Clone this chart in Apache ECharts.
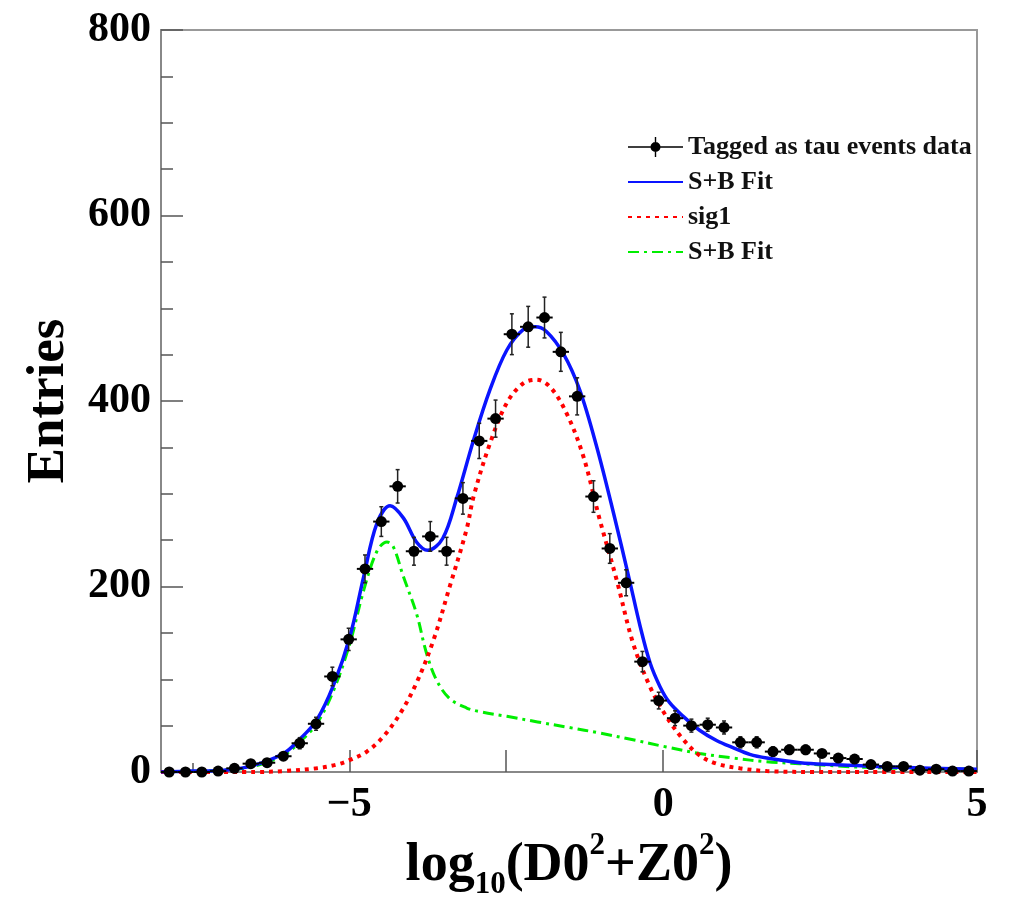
<!DOCTYPE html>
<html>
<head>
<meta charset="utf-8">
<script src="https://cdn.jsdelivr.net/npm/echarts@6/dist/echarts.min.js"></script>
<style>
html,body{margin:0;padding:0;background:#fff;}
#chart{width:1009px;height:900px;}
</style>
</head>
<body>
<div id="chart"></div>
<script>
// ---- data ----
const binCenters = [-7.87,-7.61,-7.35,-7.09,-6.83,-6.57,-6.31,-6.05,-5.79,-5.53,
  -5.27,-5.01,-4.75,-4.49,-4.23,-3.97,-3.71,-3.45,-3.19,-2.93,
  -2.67,-2.41,-2.15,-1.89,-1.63,-1.37,-1.11,-0.85,-0.59,-0.33,
  -0.07,0.19,0.45,0.71,0.97,1.23,1.49,1.75,2.01,2.27,
  2.53,2.79,3.05,3.31,3.57,3.83,4.09,4.35,4.61,4.87];
const binHalfWidth = 0.13;
const entries = [0,0,0,1,4,9,10,17,31,52,
  103,143,219,270,308,238,254,238,295,357,
  381,472,480,490,453,405,297,241,204,119,
  77,58,50,51,48,32,32,22,24,24,
  20,15,14,8,6,6,2,3,1,1];
const entryErrors = [0,0,0,1,2,3,3,4,6,7,
  10,12,15,16,18,15,16,15,17,19,
  20,22,22,22,21,20,17,16,14,11,
  9,8,7,7,7,6,6,5,5,5,
  4,4,4,3,2,2,1,2,1,1];

const fitX = [-8,-7.5,-7,-6.58,-6.05,-5.78,-5.52,-5.25,-4.99,-4.77,-4.56,-4.35,-4.14,-3.93,-3.75,-3.51,-3.29,-3.02,-2.76,-2.49,-2.23,-2.04,-1.86,-1.59,-1.33,-1.06,-0.79,-0.53,-0.37,-0.21,-0.05,0.1,0.32,0.58,0.85,1.12,1.38,1.65,2.18,2.71,3.77,5];
const fitY = [0,1,2,6,20,36,56,94,146,211,268,287,274,248,239,252,295,358,412,455,477,480,475,451,412,351,279,205,158,118,92,75,60,45,34,26,19,15,10,8,5,3];

const sigX = [-8,-6.5,-6.05,-5.52,-5.2,-4.99,-4.72,-4.46,-4.19,-3.93,-3.66,-3.4,-3.13,-3.02,-2.76,-2.49,-2.23,-2.02,-1.8,-1.54,-1.27,-1.01,-0.74,-0.48,-0.21,0.05,0.32,0.58,0.85,1.22,1.65,2.5,5];
const sigY = [0,0,1,4,8,13,22,38,63,96,142,200,262,297,354,398,419,423,415,387,340,272,207,139,92,60,35,18,9,4,1,0,0];

const bkgX = [-8,-7,-6.58,-6.05,-5.78,-5.52,-5.25,-4.99,-4.77,-4.56,-4.4,-4.3,-4.14,-3.93,-3.77,-3.61,-3.4,-3.13,-2.92,-2.49,-2,-1.5,-1.01,-0.5,0.05,0.58,1.12,1.65,2.18,3.24,4.93];
const bkgY = [0,2,5,18,33,52,88,139,196,238,248,243,211,171,128,99,79,69,65,60,54,48,42,35,27,20,15,11,9,5,3];

const xLabelValues = [-5,0,5];
const xTickValues = [-5,-2.5,0,2.5,5];
const xSmallTickValues = [-7.5];

const dataName = 'Tagged as tau events data';
const fitName = 'S+B Fit';
const sigName = 'sig1';
const bkgName = 'S+B Fit\u200b';

// ---- build ----
const zip = (xs, ys) => xs.map((x, i) => [x, ys[i]]);
const pointData = binCenters.map((x, i) => [x, entries[i], entryErrors[i], binHalfWidth]);

const FONT = "'Liberation Serif','Times New Roman',serif";

function renderPoint(params, api) {
  const x = api.value(0), y = api.value(1), e = api.value(2), hw = api.value(3);
  const c = api.coord([x, y]);
  const lft = api.coord([x - hw, y]);
  const rgt = api.coord([x + hw, y]);
  const top = api.coord([x, y + e]);
  const bot = api.coord([x, Math.max(0, y - e)]);
  const children = [];
  children.push({type:'line', shape:{x1:lft[0], y1:c[1], x2:rgt[0], y2:c[1]}, style:{stroke:'#000', lineWidth:2}});
  if (e > 0) {
    children.push({type:'line', shape:{x1:c[0], y1:top[1], x2:c[0], y2:bot[1]}, style:{stroke:'#222', lineWidth:1.5}});
    children.push({type:'line', shape:{x1:c[0]-2, y1:top[1], x2:c[0]+2, y2:top[1]}, style:{stroke:'#222', lineWidth:1.5}});
    children.push({type:'line', shape:{x1:c[0]-2, y1:bot[1], x2:c[0]+2, y2:bot[1]}, style:{stroke:'#222', lineWidth:1.5}});
  }
  children.push({type:'circle', shape:{cx:c[0], cy:c[1], r:5.5}, style:{fill:'#000'}});
  return {type:'group', children};
}

const chart = echarts.init(document.getElementById('chart'), null, {renderer:'canvas'});
const option = {
  animation: false,
  backgroundColor: '#fff',
  grid: {left:161, right:32, top:30, bottom:128, show:true, borderColor:'#999', borderWidth:2, backgroundColor:'transparent',
    containLabel: false, outerBoundsMode: 'none'},
  legend: {
    orient: 'vertical',
    left: 622, top: 129,
    itemWidth: 55, itemHeight: 20, itemGap: 9,
    textStyle: {fontFamily: FONT, fontWeight: 'bold', fontSize: 26, color: '#111', lineHeight: 26},
    data: [
      {name: dataName, icon: 'path://M0,9.2L55,9.2L55,10.8L0,10.8Z M26.8,0L28.2,0L28.2,20L26.8,20Z M22.5,10A5,5 0 1,1 32.5,10A5,5 0 1,1 22.5,10Z', itemStyle:{color:'#000'}},
      {name: fitName, itemStyle: {opacity: 0}},
      {name: sigName, itemStyle: {opacity: 0}},
      {name: bkgName, itemStyle: {opacity: 0}}
    ]
  },
  xAxis: [{
    type: 'value', min: -8, max: 5,
    position: 'bottom',
    axisLine: {show: true, onZero: false, lineStyle: {color: '#888', width: 2}},
    axisTick: {show: true, inside: true, length: 22, customValues: xTickValues, lineStyle: {color: '#555', width: 1.5}},
    axisLabel: {customValues: xLabelValues, fontFamily: FONT, fontWeight: 'bold', fontSize: 42, color: '#000', margin: 12,
      formatter: v => (v < 0 ? '\u2212' + Math.abs(v) : String(v))},
    splitLine: {show: false},
    name: '{a|log}{sub|10}{a|(D0}{sup|2}{a|+Z0}{sup|2}{a|)}',
    nameLocation: 'middle', nameGap: 54,
    nameTextStyle: {
      rich: {
        a: {fontFamily: FONT, fontWeight: 'bold', fontSize: 54, color: '#000', lineHeight: 70, verticalAlign: 'middle'},
        sub: {fontFamily: FONT, fontWeight: 'bold', fontSize: 31, color: '#000', lineHeight: 30, verticalAlign: 'bottom'},
        sup: {fontFamily: FONT, fontWeight: 'bold', fontSize: 31, color: '#000', lineHeight: 30, verticalAlign: 'top'}
      }
    }
  }, {
    type: 'value', min: -8, max: 5, position: 'bottom', gridIndex: 0,
    axisLine: {show: false, onZero: false},
    axisTick: {show: true, inside: true, length: 9, customValues: xSmallTickValues, lineStyle: {color: '#555', width: 1.5}},
    axisLabel: {show: false},
    splitLine: {show: false}
  }],
  yAxis: {
    type: 'value', min: 0, max: 800, interval: 200,
    axisLine: {show: true, onZero: false, lineStyle: {color: '#888', width: 2}},
    axisTick: {show: true, inside: true, length: 22, lineStyle: {color: '#555', width: 1.5}},
    minorTick: {show: true, splitNumber: 4, length: 12, lineStyle: {color: '#555', width: 1.5}},
    axisLabel: {fontFamily: FONT, fontWeight: 'bold', fontSize: 42, color: '#000', margin: 10},
    splitLine: {show: false},
    name: 'Entries', nameLocation: 'middle', nameRotate: 90, nameGap: 85,
    nameTextStyle: {fontFamily: FONT, fontWeight: 'bold', fontSize: 53, color: '#000'}
  },
  series: [
    {name: bkgName, type: 'line', data: zip(bkgX, bkgY), smooth: 0.35, showSymbol: false, symbol: 'none',
      lineStyle: {color: '#00ee00', width: 3, type: [11, 5, 3, 5]}, itemStyle: {color: '#00ee00'}, z: 3},
    {name: sigName, type: 'line', data: zip(sigX, sigY), smooth: 0.35, showSymbol: false, symbol: 'none',
      lineStyle: {color: '#ff0000', width: 4, type: [4, 5]}, itemStyle: {color: '#ff0000'}, z: 3},
    {name: fitName, type: 'line', data: zip(fitX, fitY), smooth: 0.35, showSymbol: false, symbol: 'none',
      lineStyle: {color: '#0a14ff', width: 3.5}, itemStyle: {color: '#0a14ff'}, z: 4},
    {name: dataName, type: 'custom', data: pointData, renderItem: renderPoint, itemStyle: {color: '#000'}, z: 5,
      encode: {x: 0, y: 1}}
  ]
};
chart.setOption(option);
</script>
</body>
</html>
